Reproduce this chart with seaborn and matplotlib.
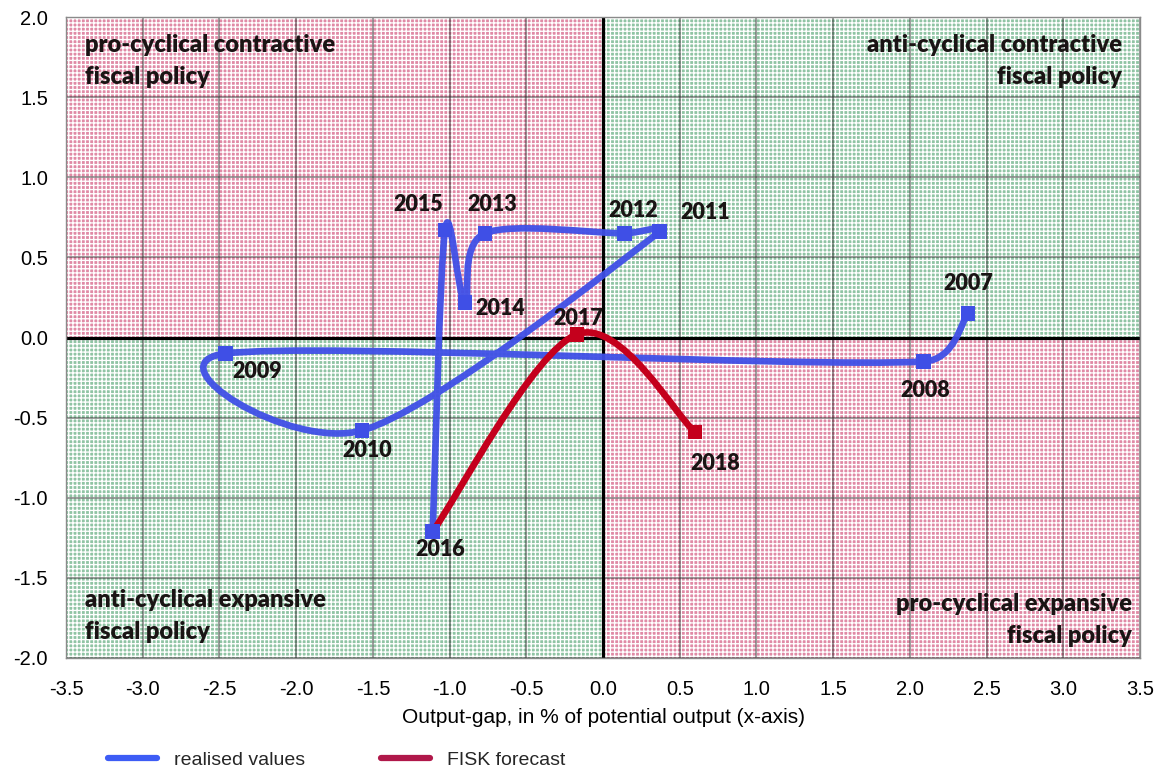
#!/usr/bin/env python3
"""
Fiscal stance vs output gap, 2007-2018 (quadrant chart).
Output: out.png
"""

import numpy as np
import matplotlib
matplotlib.use("Agg")
import matplotlib.pyplot as plt
from matplotlib.path import Path
from matplotlib.patches import PathPatch, Rectangle
from matplotlib.lines import Line2D
import seaborn as sns

# realised values (output gap, fiscal stance)
years_real = ["2007", "2008", "2009", "2010", "2011", "2012",
              "2013", "2014", "2015", "2016"]
gap_real = [2.38, 2.09, -2.46, -1.57, 0.37, 0.14, -0.77, -0.90, -1.03, -1.11]
stance_real = [0.15, -0.15, -0.10, -0.58, 0.66, 0.65, 0.65, 0.22, 0.67, -1.21]

# FISK forecast
years_fc = ["2016", "2017", "2018"]
gap_fc = [-1.11, -0.17, 0.60]
stance_fc = [-1.21, 0.02, -0.59]

x_ticks = [-3.5, -3.0, -2.5, -2.0, -1.5, -1.0, -0.5, 0.0,
           0.5, 1.0, 1.5, 2.0, 2.5, 3.0, 3.5]
y_ticks = [-2.0, -1.5, -1.0, -0.5, 0.0, 0.5, 1.0, 1.5, 2.0]

# label offsets in pixels (dx, dy up)
label_offsets = {
    "2007": (0, 30), "2008": (2, -29), "2009": (32, -18), "2010": (5, -20),
    "2011": (45, 19), "2012": (9, 23), "2013": (7, 29), "2014": (35, -6),
    "2015": (-27, 26), "2016": (8, -18), "2017": (1, 16), "2018": (20, -31),
}

BLUE = "#3f4fe6"
RED = "#c4001c"
PINK = "#e08aa6"
GREEN = "#90c4a4"
TXT = "#1a1414"


def smooth_path(xs, ys, k=1 / 6, cap=0.5):
    # Excel-like smoothed line: Catmull-Rom Bezier with handle length capped
    p = np.column_stack([xs, ys]).astype(float)
    n = len(p)
    verts = [p[0]]
    codes = [Path.MOVETO]
    for i in range(n - 1):
        a, b, c, d = p[max(i - 1, 0)], p[i], p[i + 1], p[min(i + 2, n - 1)]
        seg = np.linalg.norm(c - b)
        t1 = (c - a) * k
        t2 = (d - b) * k
        l1, l2 = np.linalg.norm(t1), np.linalg.norm(t2)
        if l1 > cap * seg:
            t1 = t1 * cap * seg / l1
        if l2 > cap * seg:
            t2 = t2 * cap * seg / l2
        verts += [b + t1, c - t2, c]
        codes += [Path.CURVE4] * 3
    return Path(verts, codes)


sns.set_theme(style="white")
plt.rcParams["font.family"] = ["Liberation Sans", "DejaVu Sans"]
plt.rcParams["axes.unicode_minus"] = False
plt.rcParams["hatch.linewidth"] = 0.95

fig = plt.figure(figsize=(11.63, 7.74), dpi=100)
ax = fig.add_axes([0.0568, 0.1499, 0.9234, 0.8281])

xmin, xmax = x_ticks[0], x_ticks[-1]
ymin, ymax = y_ticks[0], y_ticks[-1]

# quadrant backgrounds
quads = [(xmin, 0, PINK), (0, 0, GREEN), (xmin, ymin, GREEN), (0, ymin, PINK)]
for qx, qy, col in quads:
    w = -xmin if qx == xmin else xmax
    h = ymax if qy == 0 else -ymin
    ax.add_patch(Rectangle((qx, qy), w, h, facecolor=col, edgecolor="white",
                           hatch="++++", linewidth=0, zorder=0))

ax.set_axisbelow(True)
ax.grid(True, color="#2a2a2a", alpha=0.5, linewidth=1.3)
ax.axhline(0, color="black", lw=2.3, zorder=1)
ax.axvline(0, color="black", lw=2.3, zorder=1)

# smoothed lines
ax.add_patch(PathPatch(smooth_path(gap_real, stance_real), fill=False,
                       edgecolor=BLUE, lw=4.8, capstyle="round",
                       joinstyle="round", alpha=0.95, zorder=3))
ax.add_patch(PathPatch(smooth_path(gap_fc, stance_fc), fill=False,
                       edgecolor=RED, lw=4.8, capstyle="round",
                       joinstyle="round", zorder=4))

sns.scatterplot(x=gap_fc[1:], y=stance_fc[1:], marker="s", s=110,
                color=RED, edgecolor="none", ax=ax, zorder=5)
sns.scatterplot(x=gap_real, y=stance_real, marker="s", s=110,
                color=BLUE, edgecolor="none", ax=ax, zorder=5)

lab_font = dict(family=["Lato", "DejaVu Sans"], weight="heavy", fontsize=15.5,
                color=TXT)
for yr, gx, gy in zip(years_real + years_fc[1:], gap_real + gap_fc[1:],
                      stance_real + stance_fc[1:]):
    ax.annotate(yr, (gx, gy), xytext=label_offsets[yr],
                textcoords="offset pixels", ha="center", va="center",
                zorder=6, **lab_font)

quad_font = dict(family=["Lato", "DejaVu Sans"], weight="heavy", fontsize=17,
                 color=TXT, linespacing=1.55)
ax.text(0.0177, 0.931, "pro-cyclical contractive\nfiscal policy",
        transform=ax.transAxes, ha="left", va="center", **quad_font)
ax.text(0.983, 0.931, "anti-cyclical contractive\nfiscal policy",
        transform=ax.transAxes, ha="right", va="center",
        multialignment="right", **quad_font)
ax.text(0.0177, 0.0655, "anti-cyclical expansive\nfiscal policy",
        transform=ax.transAxes, ha="left", va="center", **quad_font)
ax.text(0.9926, 0.059, "pro-cyclical expansive\nfiscal policy",
        transform=ax.transAxes, ha="right", va="center",
        multialignment="right", **quad_font)

ax.set_xlim(xmin, xmax)
ax.set_ylim(ymin, ymax)
ax.set_xticks(x_ticks)
ax.set_yticks(y_ticks)
ax.set_xticklabels([f"{v:.1f}" for v in x_ticks])
ax.set_yticklabels([f"{v:.1f}" for v in y_ticks])
ax.tick_params(axis="x", length=0, pad=16, labelsize=14.5, colors="black")
ax.tick_params(axis="y", length=0, pad=13, labelsize=14.5, colors="black")
ax.set_xlabel("Output-gap, in % of potential output (x-axis)",
              fontsize=15, labelpad=6, color="black")
ax.set_ylabel("")

for sp in ax.spines.values():
    sp.set_color("#8a8a8a")
    sp.set_linewidth(1.0)

handles = [Line2D([], [], color="#3d5cf5", lw=4.5),
           Line2D([], [], color="#b0184a", lw=4.5)]
fig.legend(handles, ["realised values", "FISK forecast"], loc="center left",
           bbox_to_anchor=(0.093, 0.018), ncol=2, frameon=False,
           handlelength=2.5, handletextpad=0.9, columnspacing=3.9,
           fontsize=14, borderpad=0, borderaxespad=0)

fig.savefig("out.png", dpi=100)
plt.close(fig)
print("[OK] saved out.png")
